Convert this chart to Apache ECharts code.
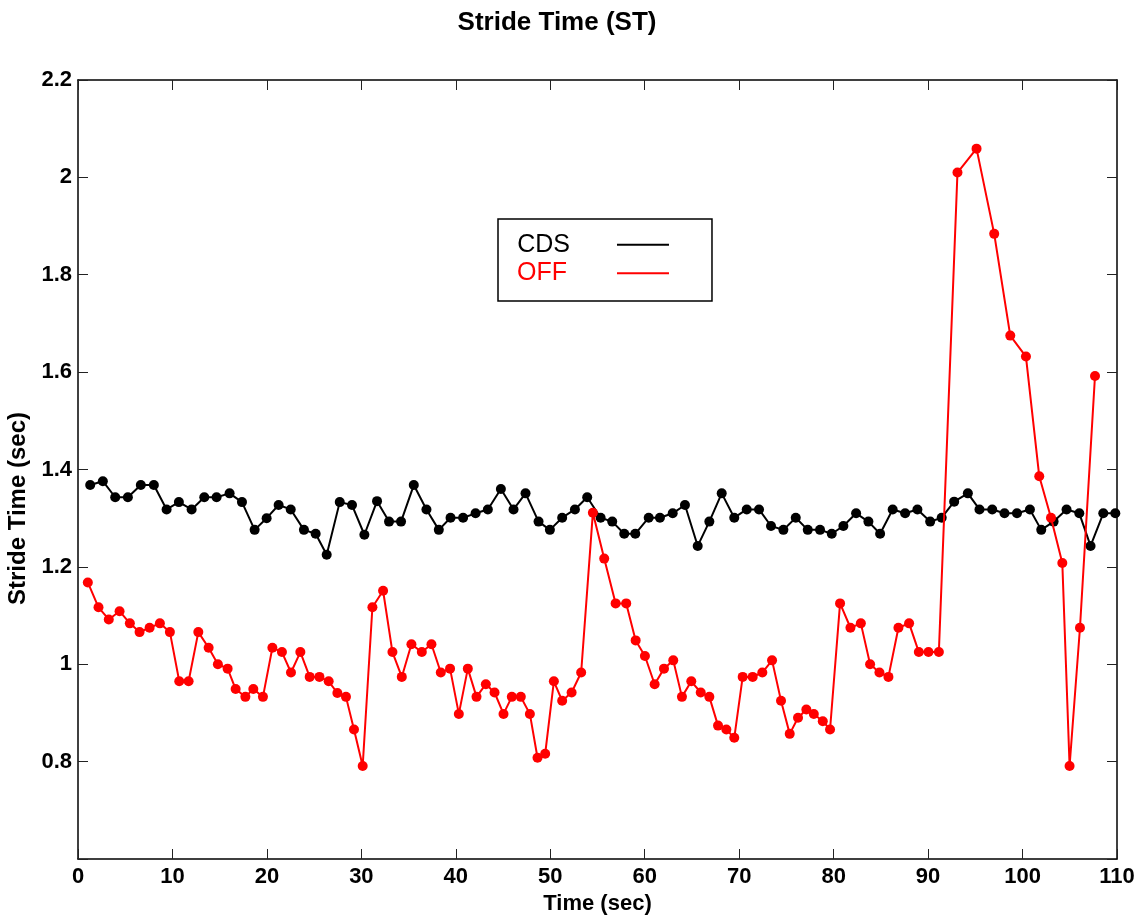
<!DOCTYPE html>
<html>
<head>
<meta charset="utf-8">
<script src="https://cdn.jsdelivr.net/npm/echarts@6/dist/echarts.min.js"></script>
<style>
  html, body { margin: 0; padding: 0; background: #fff; }
  #chart { width: 1143px; height: 918px; }
</style>
</head>
<body>
<div id="chart"></div>
<script>
// ---- Data ----
const cdsTime = [1.29, 2.63, 3.94, 5.28, 6.65, 8.03, 9.38, 10.68, 12.03, 13.37,
  14.67, 16.05, 17.36, 18.70, 19.97, 21.24, 22.52, 23.92, 25.16, 26.33,
  27.71, 29.01, 30.32, 31.66, 32.93, 34.20, 35.55, 36.89, 38.20, 39.44,
  40.77, 42.09, 43.39, 44.77, 46.11, 47.38, 48.76, 49.96, 51.26, 52.61,
  53.91, 55.33, 56.56, 57.83, 59.00, 60.42, 61.61, 62.96, 64.26, 65.61,
  66.84, 68.15, 69.48, 70.80, 72.10, 73.37, 74.68, 75.99, 77.26, 78.56,
  79.80, 81.03, 82.38, 83.68, 84.92, 86.25, 87.57, 88.87, 90.22, 91.44,
  92.76, 94.21, 95.44, 96.79, 98.09, 99.41, 100.78, 101.98, 103.29, 104.66,
  106.01, 107.20, 108.55, 109.82];
const cdsStride = [1.368, 1.376, 1.343, 1.343, 1.368, 1.368, 1.318, 1.333, 1.318, 1.343,
  1.343, 1.351, 1.333, 1.276, 1.300, 1.327, 1.318, 1.276, 1.268, 1.225,
  1.333, 1.327, 1.266, 1.335, 1.293, 1.293, 1.368, 1.318, 1.276, 1.301,
  1.301, 1.310, 1.318, 1.360, 1.318, 1.351, 1.293, 1.276, 1.301, 1.318,
  1.343, 1.301, 1.293, 1.268, 1.268, 1.301, 1.301, 1.310, 1.327, 1.243,
  1.293, 1.351, 1.301, 1.318, 1.318, 1.284, 1.276, 1.301, 1.276, 1.276,
  1.268, 1.284, 1.310, 1.293, 1.268, 1.318, 1.310, 1.318, 1.293, 1.301,
  1.334, 1.351, 1.318, 1.318, 1.310, 1.310, 1.318, 1.276, 1.293, 1.318,
  1.310, 1.243, 1.310, 1.310];

const offTime = [1.04, 2.17, 3.26, 4.40, 5.49, 6.52, 7.58, 8.67, 9.73, 10.72,
  11.71, 12.74, 13.83, 14.81, 15.84, 16.69, 17.72, 18.56, 19.58, 20.58,
  21.59, 22.55, 23.54, 24.53, 25.56, 26.54, 27.46, 28.37, 29.22, 30.14,
  31.17, 32.30, 33.29, 34.28, 35.30, 36.40, 37.42, 38.41, 39.39, 40.32,
  41.27, 42.19, 43.18, 44.10, 45.05, 45.93, 46.88, 47.84, 48.65, 49.46,
  50.38, 51.26, 52.26, 53.27, 54.51, 55.71, 56.92, 58.04, 59.04, 60.02,
  61.05, 62.04, 63.02, 63.94, 64.93, 65.93, 66.84, 67.76, 68.64, 69.48,
  70.37, 71.43, 72.45, 73.48, 74.43, 75.35, 76.23, 77.11, 77.90, 78.85,
  79.62, 80.68, 81.78, 82.88, 83.86, 84.85, 85.80, 86.86, 87.99, 89.02,
  90.04, 91.14, 93.11, 95.13, 97.00, 98.70, 100.36, 101.77, 103.01, 104.21,
  104.98, 106.08, 107.67];
const offStride = [1.168, 1.117, 1.092, 1.109, 1.084, 1.066, 1.075, 1.084, 1.066, 0.965,
  0.965, 1.066, 1.034, 1.000, 0.991, 0.949, 0.933, 0.949, 0.933, 1.034,
  1.025, 0.983, 1.025, 0.974, 0.974, 0.965, 0.941, 0.933, 0.866, 0.791,
  1.117, 1.151, 1.025, 0.974, 1.041, 1.025, 1.041, 0.983, 0.991, 0.898,
  0.991, 0.933, 0.959, 0.942, 0.898, 0.933, 0.933, 0.898, 0.808, 0.816,
  0.965, 0.925, 0.942, 0.983, 1.311, 1.217, 1.125, 1.125, 1.049, 1.017,
  0.959, 0.991, 1.008, 0.933, 0.965, 0.942, 0.933, 0.874, 0.866, 0.849,
  0.974, 0.974, 0.983, 1.008, 0.925, 0.857, 0.890, 0.907, 0.898, 0.883,
  0.866, 1.125, 1.075, 1.084, 1.000, 0.983, 0.974, 1.075, 1.084, 1.025,
  1.025, 1.025, 2.010, 2.059, 1.884, 1.675, 1.632, 1.386, 1.301, 1.208,
  0.791, 1.075, 1.592];

const seriesNames = ['CDS', 'OFF'];
const seriesColors = ['#000000', '#ff0000'];
const titleText = 'Stride Time (ST)';
const xAxisName = 'Time (sec)';
const yAxisName = 'Stride Time (sec)';
const xTicks = { min: 0, max: 110, step: 10 };
const yTicks = { min: 0.6, max: 2.2, step: 0.2 };

// ---- Chart ----
const FONT = '"Liberation Sans", Arial, Helvetica, sans-serif';
const zip = (a, b) => a.map((v, i) => [v, b[i]]);

const chart = echarts.init(document.getElementById('chart'), null, { renderer: 'canvas' });

const axisLineStyle = { show: true, onZero: false, lineStyle: { color: '#000', width: 1.5 } };
const tickStyle = { show: true, inside: true, length: 10, lineStyle: { color: '#222', width: 1 } };
const labelFont = { fontFamily: FONT, fontSize: 22, fontWeight: 'bold', color: '#000' };

const option = {
  animation: false,
  backgroundColor: '#fff',
  title: {
    text: titleText,
    left: 552,
    top: 5,
    textAlign: 'center',
    textStyle: { fontFamily: FONT, fontSize: 26, fontWeight: 'bold', color: '#000' }
  },
  grid: { left: 78, right: 26, top: 80, bottom: 59, containLabel: false, outerBoundsMode: 'none' },
  legend: {
    orient: 'vertical',
    align: 'right',
    left: 498,
    top: 219,
    padding: [13.2, 43, 15.2, 19],
    borderColor: '#000',
    borderWidth: 1.5,
    backgroundColor: '#fff',
    itemWidth: 52,
    itemHeight: 2,
    itemGap: 3.6,
    icon: 'rect',
    textStyle: { fontFamily: FONT, fontSize: 25, lineHeight: 25 },
    data: [
      { name: seriesNames[0], textStyle: { color: seriesColors[0], padding: [0, 42, 0, 0] } },
      { name: seriesNames[1], textStyle: { color: seriesColors[1], padding: [0, 45, 0, 0] } }
    ]
  },
  xAxis: [
    {
      type: 'value', position: 'bottom',
      min: xTicks.min, max: xTicks.max, interval: xTicks.step,
      axisLine: axisLineStyle, axisTick: tickStyle,
      axisLabel: Object.assign({ margin: 7 }, labelFont),
      splitLine: { show: false },
      name: xAxisName, nameLocation: 'middle', nameGap: 31,
      nameTextStyle: labelFont
    },
    {
      type: 'value', position: 'top',
      min: xTicks.min, max: xTicks.max, interval: xTicks.step,
      axisLine: axisLineStyle, axisTick: tickStyle,
      axisLabel: { show: false }, splitLine: { show: false }
    }
  ],
  yAxis: [
    {
      type: 'value', position: 'left',
      min: yTicks.min, max: yTicks.max, interval: yTicks.step,
      axisLine: axisLineStyle, axisTick: tickStyle,
      axisLabel: Object.assign({
        margin: 6,
        formatter: v => (v < 0.7 ? '' : String(+v.toFixed(1)))
      }, labelFont),
      splitLine: { show: false },
      name: yAxisName, nameLocation: 'middle', nameGap: 44,
      nameTextStyle: Object.assign({}, labelFont, { fontSize: 24, padding: [0, 78, 0, 0] })
    },
    {
      type: 'value', position: 'right',
      min: yTicks.min, max: yTicks.max, interval: yTicks.step,
      axisLine: axisLineStyle, axisTick: tickStyle,
      axisLabel: { show: false }, splitLine: { show: false }
    }
  ],
  series: [
    {
      name: seriesNames[0], type: 'line', xAxisIndex: 0, yAxisIndex: 0,
      data: zip(cdsTime, cdsStride),
      symbol: 'circle', symbolSize: 10, showSymbol: true, showAllSymbol: true,
      color: seriesColors[0],
      itemStyle: { color: seriesColors[0] },
      lineStyle: { color: seriesColors[0], width: 2 },
      z: 2
    },
    {
      name: seriesNames[1], type: 'line', xAxisIndex: 0, yAxisIndex: 0,
      data: zip(offTime, offStride),
      symbol: 'circle', symbolSize: 10, showSymbol: true, showAllSymbol: true,
      color: seriesColors[1],
      itemStyle: { color: seriesColors[1] },
      lineStyle: { color: seriesColors[1], width: 2 },
      z: 3
    }
  ]
};

chart.setOption(option);
</script>
</body>
</html>
